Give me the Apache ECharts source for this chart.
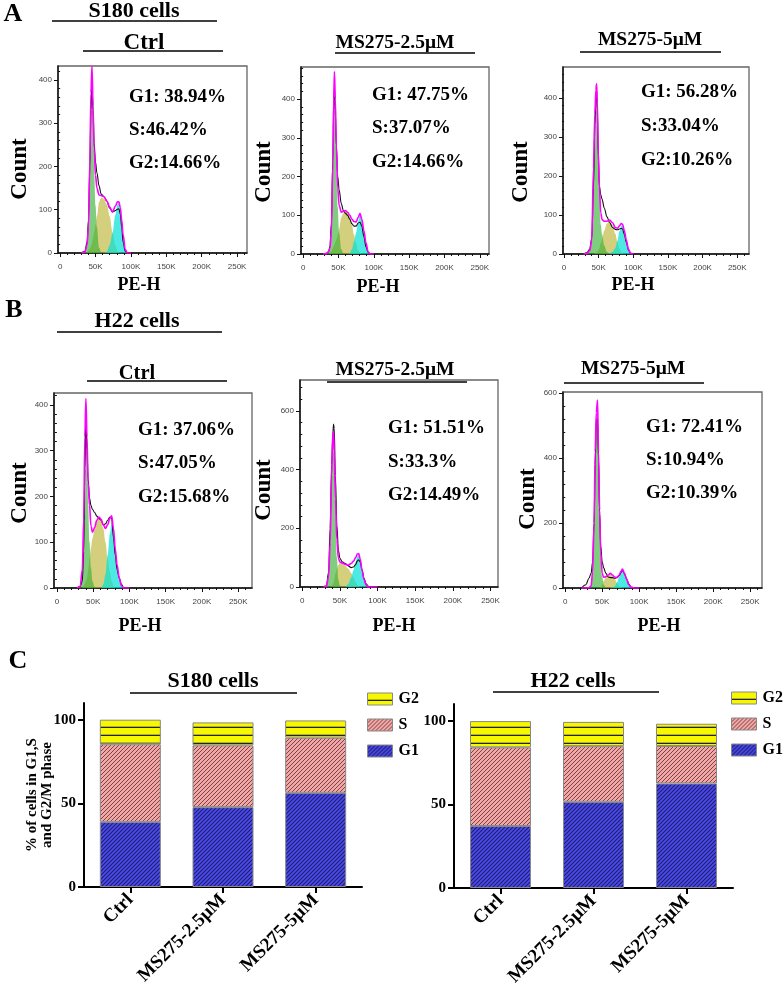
<!DOCTYPE html>
<html><head><meta charset="utf-8">
<script src="https://cdn.jsdelivr.net/npm/echarts@6/dist/echarts.min.js"></script>
<style>html,body{margin:0;padding:0;background:#fff}#c{width:784px;height:990px}</style>
</head><body><div id="c"></div>
<script>
// ---------- Histogram data (x in K units of PE-H, y = count) ----------
const a1X     = [30, 35, 38, 40, 42, 43.5, 45, 46.5, 48, 50, 52, 55, 58, 62, 66, 70, 74, 78, 81, 83, 85, 87, 89, 92, 95, 100];
const a1Black = [0, 4, 25, 75, 200, 330, 392, 330, 255, 210, 185, 155, 136, 130, 120, 104, 95, 98, 101, 102, 90, 60, 25, 4, 1, 0];
const a1Fit   = [0, 2, 18, 60, 210, 370, 432, 340, 240, 180, 150, 134, 133, 130, 120, 106, 95, 108, 118, 118, 105, 76, 42, 8, 0, 0];
const a1G1    = [0, 0, 15, 55, 200, 355, 405, 310, 200, 110, 60, 12, 2, 0, 0, 0, 0, 0, 0, 0, 0, 0, 0, 0, 0, 0];
const a1S     = [0, 0, 3, 6, 10, 15, 22, 35, 48, 65, 85, 118, 128, 125, 112, 85, 48, 18, 5, 2, 0, 0, 0, 0, 0, 0];
const a1G2    = [0, 0, 0, 0, 0, 0, 0, 0, 0, 0, 0, 0, 0, 0, 3, 18, 45, 88, 112, 115, 103, 75, 42, 8, 0, 0];

const a2X     = [28, 33, 36, 38, 40, 42, 43.3, 44.3, 45.5, 47, 49, 51, 54, 57, 60, 63, 66, 69, 72, 75, 78, 80.5, 83, 86, 89, 92, 95, 100];
const a2Black = [0, 2, 6, 20, 80, 240, 380, 434, 370, 280, 200, 165, 130, 112, 105, 100, 90, 78, 72, 72, 80, 82, 72, 45, 18, 4, 0, 0];
const a2Fit   = [0, 1, 5, 15, 60, 230, 400, 471, 400, 280, 170, 125, 108, 110, 112, 108, 100, 90, 84, 83, 95, 105, 90, 60, 28, 6, 0, 0];
const a2G1    = [0, 0, 2, 10, 50, 210, 375, 440, 365, 240, 120, 55, 12, 2, 0, 0, 0, 0, 0, 0, 0, 0, 0, 0, 0, 0, 0, 0];
const a2S     = [0, 0, 0, 3, 8, 15, 20, 25, 30, 38, 50, 65, 95, 105, 110, 107, 95, 75, 50, 28, 10, 3, 0, 0, 0, 0, 0, 0];
const a2G2    = [0, 0, 0, 0, 0, 0, 0, 0, 0, 0, 0, 0, 0, 0, 0, 0, 2, 12, 32, 55, 85, 100, 90, 60, 28, 6, 0, 0];

const a3X     = [28, 33, 37, 40, 42.5, 44.5, 46, 47, 48, 49.5, 51, 53, 55, 58, 62, 66, 70, 74, 77, 80, 82.5, 84.5, 87, 90, 93, 96, 100];
const a3Black = [0, 3, 12, 40, 170, 330, 400, 421, 370, 250, 175, 152, 140, 118, 95, 80, 68, 63, 62, 64, 66, 64, 50, 30, 10, 2, 0];
const a3Fit   = [0, 1, 8, 35, 220, 360, 420, 436, 390, 260, 170, 105, 88, 84, 84, 87, 80, 68, 66, 72, 78, 76, 60, 35, 12, 2, 0];
const a3G1    = [0, 0, 6, 30, 212, 355, 412, 428, 380, 248, 153, 75, 50, 22, 5, 0, 0, 0, 0, 0, 0, 0, 0, 0, 0, 0, 0];
const a3S     = [0, 0, 0, 0, 0, 2, 3, 4, 6, 9, 15, 28, 38, 60, 78, 85, 75, 52, 32, 14, 5, 1, 0, 0, 0, 0, 0];
const a3G2    = [0, 0, 0, 0, 0, 0, 0, 0, 0, 0, 0, 0, 0, 0, 0, 2, 6, 15, 33, 58, 72, 74, 60, 35, 12, 2, 0];

const b1X     = [28, 32, 35, 37, 38.5, 40, 41.5, 43, 45, 47, 49, 52, 55, 58, 61, 64, 67, 70, 73, 75.5, 78, 80.5, 83, 86, 89, 92, 96, 100];
const b1Black = [0, 3, 15, 80, 260, 378, 300, 240, 196, 180, 172, 165, 157, 152, 148, 138, 140, 148, 155, 152, 110, 72, 40, 22, 8, 1, 0, 0];
const b1Fit   = [0, 3, 40, 150, 330, 414, 330, 230, 181, 135, 122, 132, 148, 155, 150, 138, 130, 138, 152, 158, 130, 85, 50, 22, 5, 0, 0, 0];
const b1G1    = [0, 3, 35, 140, 320, 400, 315, 190, 100, 45, 15, 3, 0, 0, 0, 0, 0, 0, 0, 0, 0, 0, 0, 0, 0, 0, 0, 0];
const b1S     = [0, 0, 0, 5, 10, 15, 22, 38, 65, 88, 108, 130, 148, 153, 148, 130, 100, 65, 35, 15, 5, 0, 0, 0, 0, 0, 0, 0];
const b1G2    = [0, 0, 0, 0, 0, 0, 0, 0, 0, 0, 0, 0, 0, 0, 0, 8, 30, 72, 118, 143, 125, 85, 50, 22, 5, 0, 0, 0];

const b2X     = [28, 32, 35, 37, 39, 40.5, 41.5, 42.5, 44, 46, 48, 50, 53, 57, 61, 65, 68, 71, 73, 75, 77, 79.5, 82, 85, 88, 92, 100];
const b2Black = [0, 4, 50, 200, 417, 510, 555, 540, 380, 210, 125, 98, 86, 80, 72, 66, 68, 77, 88, 93, 85, 58, 30, 10, 2, 0, 0];
const b2Fit   = [0, 2, 35, 150, 380, 520, 530, 460, 300, 160, 98, 85, 82, 77, 75, 80, 88, 100, 112, 114, 95, 55, 25, 6, 0, 0, 0];
const b2G1    = [0, 2, 30, 140, 370, 505, 512, 435, 255, 100, 25, 5, 1, 0, 0, 0, 0, 0, 0, 0, 0, 0, 0, 0, 0, 0, 0];
const b2S     = [0, 0, 0, 0, 3, 8, 15, 25, 45, 62, 75, 82, 80, 72, 62, 48, 32, 17, 8, 3, 0, 0, 0, 0, 0, 0, 0];
const b2G2    = [0, 0, 0, 0, 0, 0, 0, 0, 0, 0, 0, 0, 0, 0, 10, 32, 57, 85, 104, 110, 95, 55, 25, 6, 0, 0, 0];

const b3X     = [22, 28, 32, 35, 37, 39, 40.5, 42, 43.7, 45, 46.5, 48, 50, 52, 55, 58, 61, 64, 67, 70, 73, 75.5, 77.5, 80, 83, 86, 89, 95, 100];
const b3Black = [0, 10, 30, 45, 80, 200, 380, 515, 520, 400, 230, 130, 80, 62, 45, 34, 32, 32, 30, 32, 38, 48, 55, 45, 28, 12, 3, 0, 0];
const b3Fit   = [0, 0, 1, 6, 50, 200, 420, 540, 578, 420, 240, 110, 45, 33, 35, 40, 45, 40, 33, 33, 40, 52, 58, 45, 27, 10, 2, 0, 0];
const b3G1    = [0, 0, 0, 5, 45, 190, 400, 520, 570, 415, 230, 100, 35, 10, 2, 0, 0, 0, 0, 0, 0, 0, 0, 0, 0, 0, 0, 0, 0];
const b3S     = [0, 0, 0, 0, 0, 0, 0, 0, 0, 0, 0, 3, 10, 22, 33, 40, 43, 38, 28, 15, 6, 2, 0, 0, 0, 0, 0, 0, 0];
const b3G2    = [0, 0, 0, 0, 0, 0, 0, 0, 0, 0, 0, 0, 0, 0, 0, 0, 0, 2, 5, 18, 34, 50, 57, 45, 27, 10, 2, 0, 0];

// ---------- Tick labels ----------
const xMajorTicks = [0, 50, 100, 150, 200, 250];
const xMinorTicks = [10, 20, 30, 40, 60, 70, 80, 90, 110, 120, 130, 140, 160, 170, 180, 190, 210, 220, 230, 240, 260];
const yMajorA = [0, 100, 200, 300, 400];
const yMinorA = [20, 40, 60, 80, 120, 140, 160, 180, 220, 240, 260, 280, 320, 340, 360, 380, 420, 440, 460, 480];
const yMajorB = [0, 200, 400, 600];
const yMinorB = [40, 80, 120, 160, 240, 280, 320, 360, 440, 480, 520, 560, 640, 680];

// ---------- Texts ----------
const a1Stats = ['G1: 38.94%', 'S:46.42%', 'G2:14.66%'];
const a2Stats = ['G1: 47.75%', 'S:37.07%', 'G2:14.66%'];
const a3Stats = ['G1: 56.28%', 'S:33.04%', 'G2:10.26%'];
const b1Stats = ['G1: 37.06%', 'S:47.05%', 'G2:15.68%'];
const b2Stats = ['G1: 51.51%', 'S:33.3%', 'G2:14.49%'];
const b3Stats = ['G1: 72.41%', 'S:10.94%', 'G2:10.39%'];
const groupTitles = ['Ctrl', 'MS275-2.5\u03bcM', 'MS275-5\u03bcM'];

// ---------- Bar chart data ----------
const categories = ['Ctrl', 'MS275-2.5\u03bcM', 'MS275-5\u03bcM'];
const phaseNames = ['G2', 'S', 'G1'];
const s180G1 = [38.94, 47.75, 56.28];
const s180S  = [46.42, 36.95, 33.04];
const s180G2 = [14.66, 13.7, 10.26];
const h22G1  = [37.06, 51.51, 62.5];
const h22S   = [47.05, 33.3, 22.4];
const h22G2  = [15.68, 14.49, 13.3];

const SERIF = 'Liberation Serif';
const SANS = 'Liberation Sans';

function hatch(bg, fg, size, lw) {
  const c = document.createElement('canvas');
  c.width = size; c.height = size;
  const ctx = c.getContext('2d');
  ctx.fillStyle = bg; ctx.fillRect(0, 0, size, size);
  ctx.strokeStyle = fg; ctx.lineWidth = lw;
  ctx.beginPath();
  ctx.moveTo(-1, size + 1); ctx.lineTo(size + 1, -1);
  ctx.moveTo(-1, 1); ctx.lineTo(1, -1);
  ctx.moveTo(size - 1, size + 1); ctx.lineTo(size + 1, size - 1);
  ctx.stroke();
  return { image: c, repeat: 'repeat' };
}
function hlines(bg, fg, h) {
  const c = document.createElement('canvas');
  c.width = 4; c.height = h;
  const ctx = c.getContext('2d');
  ctx.fillStyle = bg; ctx.fillRect(0, 0, 4, h);
  ctx.fillStyle = fg; ctx.fillRect(0, h - 1.3, 4, 1.3);
  return { image: c, repeat: 'repeat' };
}
const patG1 = hatch('#4b4bf2', '#1e1e66', 4, 1.1);
const patS  = hatch('#f3a6a6', '#7a4444', 4, 1.0);
const patG2 = hlines('#f7f700', '#222', 8);

const panels = [
  { x: a1X, black: a1Black, fit: a1Fit, g1: a1G1, s: a1S, g2: a1G2, grid: { left: 58, top: 66, width: 189, height: 187 }, xMin: -3, xMax: 264, yMax: 432, yMajor: yMajorA, yMinor: yMinorA },
  { x: a2X, black: a2Black, fit: a2Fit, g1: a2G1, s: a2S, g2: a2G2, grid: { left: 301, top: 67, width: 188, height: 187 }, xMin: -3, xMax: 263, yMax: 483, yMajor: yMajorA, yMinor: yMinorA },
  { x: a3X, black: a3Black, fit: a3Fit, g1: a3G1, s: a3S, g2: a3G2, grid: { left: 563, top: 67, width: 186, height: 187 }, xMin: -1.5, xMax: 267, yMax: 479, yMajor: yMajorA, yMinor: yMinorA },
  { x: b1X, black: b1Black, fit: b1Fit, g1: b1G1, s: b1S, g2: b1G2, grid: { left: 54, top: 393, width: 198, height: 195 }, xMin: -4, xMax: 269, yMax: 426, yMajor: yMajorA, yMinor: yMinorA },
  { x: b2X, black: b2Black, fit: b2Fit, g1: b2G1, s: b2S, g2: b2G2, grid: { left: 300, top: 380, width: 198, height: 207 }, xMin: -3, xMax: 260, yMax: 705, yMajor: yMajorB, yMinor: yMinorB },
  { x: b3X, black: b3Black, fit: b3Fit, g1: b3G1, s: b3S, g2: b3G2, grid: { left: 563, top: 392, width: 199, height: 196 }, xMin: -3, xMax: 266, yMax: 603, yMajor: yMajorB, yMinor: yMinorB }
];

const grids = [], xAxes = [], yAxes = [], series = [];
const tickLabel = { fontSize: 8, color: '#444', fontFamily: SANS };

panels.forEach((p, i) => {
  grids.push(Object.assign({ show: true, borderColor: '#666', borderWidth: 1.3, outerBoundsMode: 'none' }, p.grid));
  const xMin = p.xMin, xMax = p.xMax;
  xAxes.push({
    gridIndex: i, type: 'value', position: 'bottom', min: xMin, max: xMax,
    axisLine: { show: true, onZero: false, lineStyle: { color: '#111', width: 1.5 } },
    axisTick: { show: true, customValues: xMajorTicks, length: 4, lineStyle: { color: '#111', width: 1 } },
    axisLabel: Object.assign({ customValues: xMajorTicks, margin: 10, formatter: v => v === 0 ? '0' : v + 'K' }, tickLabel),
    splitLine: { show: false }
  });
  xAxes.push({
    gridIndex: i, type: 'value', position: 'bottom', min: xMin, max: xMax,
    axisLine: { show: false },
    axisTick: { show: true, customValues: xMinorTicks.filter(v => v < xMax), length: 2, lineStyle: { color: '#111', width: 1 } },
    axisLabel: { show: false }, splitLine: { show: false }
  });
  yAxes.push({
    gridIndex: i, type: 'value', position: 'left', min: 0, max: p.yMax,
    axisLine: { show: true, onZero: false, lineStyle: { color: '#111', width: 1.5 } },
    axisTick: { show: true, customValues: p.yMajor, length: 4, lineStyle: { color: '#111', width: 1 } },
    axisLabel: Object.assign({ customValues: p.yMajor, margin: 6 }, tickLabel),
    splitLine: { show: false }
  });
  yAxes.push({
    gridIndex: i, type: 'value', position: 'left', min: 0, max: p.yMax,
    axisLine: { show: false },
    axisTick: { show: true, customValues: p.yMinor.filter(v => v < p.yMax), length: 2, lineStyle: { color: '#111', width: 1 } },
    axisLabel: { show: false }, splitLine: { show: false }
  });
  const xi = i * 2, yi = i * 2;
  const pairs = arr => p.x.map((xv, k) => [xv, arr[k]]);
  const area = (arr, col, z) => ({
    type: 'line', xAxisIndex: xi, yAxisIndex: yi, data: pairs(arr), symbol: 'none',
    smooth: 0.35, smoothMonotone: 'x', silent: true, z: z,
    lineStyle: { width: 0, opacity: 0 }, areaStyle: { color: col, opacity: 1 }
  });
  series.push(area(p.s, 'rgba(188,182,55,0.65)', 2));
  series.push(area(p.g2, 'rgba(0,225,215,0.7)', 3));
  series.push(area(p.g1, 'rgba(50,175,50,0.62)', 4));
  series.push({ type: 'line', xAxisIndex: xi, yAxisIndex: yi, data: pairs(p.black), symbol: 'none', smooth: 0.35, smoothMonotone: 'x', silent: true, z: 5, lineStyle: { color: '#111', width: 1.1 } });
  series.push({ type: 'line', xAxisIndex: xi, yAxisIndex: yi, data: pairs(p.fit), symbol: 'none', smooth: 0.35, smoothMonotone: 'x', silent: true, z: 6, lineStyle: { color: '#ff00ff', width: 1.6 } });
});

// ---------- Bar charts ----------
const barGrids = [
  { left: 84, top: 703, width: 278, height: 184 },
  { left: 454, top: 704, width: 279, height: 184 }
];
const barSets = [
  { g1: s180G1, s: s180S, g2: s180G2, yName: '% of cells in G1,S\nand G2/M phase' },
  { g1: h22G1, s: h22S, g2: h22G2, yName: '' }
];
barSets.forEach((b, j) => {
  const gi = panels.length + j;
  grids.push(Object.assign({ show: false, outerBoundsMode: 'none' }, barGrids[j]));
  xAxes.push({
    gridIndex: gi, type: 'category', data: categories,
    axisLine: { show: true, lineStyle: { color: '#000', width: 2 } },
    axisTick: { show: true, alignWithLabel: true, length: 6, lineStyle: { color: '#000', width: 2 } },
    axisLabel: { rotate: 45, margin: 10, fontSize: 19, fontWeight: 'bold', fontFamily: SERIF, color: '#000' }
  });
  yAxes.push({
    gridIndex: gi, type: 'value', min: 0, max: 110,
    axisLine: { show: true, lineStyle: { color: '#000', width: 2 } },
    axisTick: { show: true, customValues: [0, 50, 100], length: 6, lineStyle: { color: '#000', width: 2 } },
    axisLabel: { customValues: [0, 50, 100], margin: 8, fontSize: 15, fontWeight: 'bold', fontFamily: SERIF, color: '#000' },
    splitLine: { show: false },
    name: b.yName, nameLocation: 'middle', nameRotate: 90, nameGap: 29, nameMoveOverlap: false,
    nameTextStyle: { fontSize: 15, fontWeight: 'bold', fontFamily: SERIF, color: '#000', lineHeight: 15 }
  });
  const xi = xAxes.length - 1, yi = yAxes.length - 1;
  const bar = (name, data, pat) => ({
    type: 'bar', name: name, xAxisIndex: xi, yAxisIndex: yi, stack: 'st' + j, data: data, barWidth: 61,
    itemStyle: { color: pat, borderColor: '#888', borderWidth: 1 }, silent: true
  });
  series.push(bar('G1', b.g1, patG1));
  series.push(bar('S', b.s, patS));
  series.push(bar('G2', b.g2, patG2));
});

// ---------- Graphic texts ----------
const G = [];
function txt(text, x, y, size, align, rot, sx) {
  G.push({
    type: 'text', x: x, y: y, rotation: rot || 0, scaleX: sx || 1, silent: true,
    style: { text: text, fontSize: size, fontWeight: 'bold', fontFamily: SERIF, fill: '#000',
      textAlign: align || 'center', align: align || 'center', textVerticalAlign: 'middle', verticalAlign: 'middle' }
  });
}
function uline(x1, x2, y) {
  G.push({ type: 'line', silent: true, shape: { x1: x1, y1: y, x2: x2, y2: y }, style: { stroke: '#000', lineWidth: 1.6 } });
}
// panel letters
txt('A', 13, 14, 26); txt('B', 14, 310, 26); txt('C', 18, 661, 26);
// group titles
txt('S180 cells', 134, 11, 22); uline(52, 217, 21);
txt('H22 cells', 137, 321, 22); uline(57, 222, 332);
txt('S180 cells', 213, 681, 22); uline(130, 297, 693);
txt('H22 cells', 573, 681, 22); uline(493, 659, 692);
// panel titles
const titlePos = [[144, 43, 83, 223, 51, 23], [395, 43, 335, 475, 53, 19.5], [650, 40, 580, 721, 52, 19.5],
                  [137, 374, 87, 227, 381, 20.5], [395, 370, 327, 467, 382, 19.5], [633, 369, 564, 704, 383, 19.5]];
titlePos.forEach((t, i) => { txt(groupTitles[i % 3], t[0], t[1], t[5]); uline(t[2], t[3], t[4]); });
// stats
const statsAll = [a1Stats, a2Stats, a3Stats, b1Stats, b2Stats, b3Stats];
const statsPos = [[129, 97, 130, 163], [372, 95, 128, 162], [641, 92, 126, 160],
                  [138, 430, 463, 497], [388, 428, 462, 495], [646, 427, 460, 493]];
statsAll.forEach((st, i) => { st.forEach((s, k) => txt(s, statsPos[i][0], statsPos[i][k + 1], 19, 'left')); });
// Count labels
[[20, 169], [264, 172], [521, 172], [20, 493], [264, 490], [528, 499]].forEach(c => txt('Count', c[0], c[1], 23, 'center', Math.PI / 2));
// PE-H labels
[[139, 285], [378, 287], [633, 285], [140, 626], [394, 626], [659, 626]].forEach(c => txt('PE-H', c[0], c[1], 18));

const legendBase = {
  orient: 'vertical', data: phaseNames, icon: 'rect', itemWidth: 25, itemHeight: 12, itemGap: 10,
  selectedMode: false, itemStyle: { borderColor: '#888', borderWidth: 1 },
  textStyle: { fontSize: 16, fontWeight: 'bold', fontFamily: SERIF, color: '#000', padding: [0, 0, 0, 1] }
};

const chart = echarts.init(document.getElementById('c'), null, { renderer: 'canvas', width: 784, height: 990 });
chart.setOption({
  animation: false,
  backgroundColor: '#fff',
  grid: grids, xAxis: xAxes, yAxis: yAxes, series: series,
  legend: [Object.assign({ left: 362, top: 686 }, legendBase), Object.assign({ left: 726, top: 685 }, legendBase)],
  graphic: { elements: G }
});
</script></body></html>
